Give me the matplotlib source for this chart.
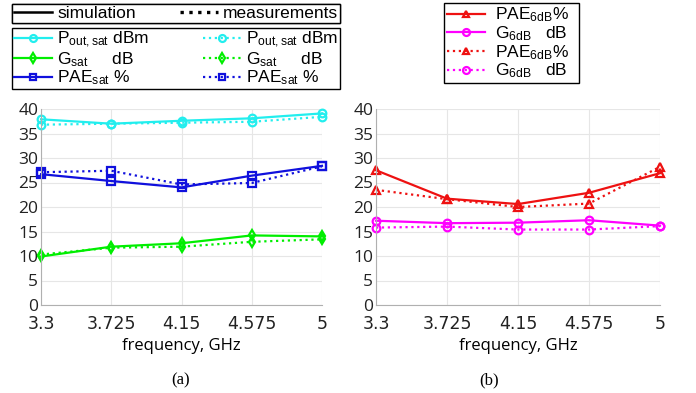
import numpy as np
import matplotlib
matplotlib.use("Agg")
import matplotlib.pyplot as plt
from matplotlib.lines import Line2D

plt.rcParams["mathtext.fontset"] = "custom"
plt.rcParams["mathtext.rm"] = "Liberation Sans"
plt.rcParams["mathtext.it"] = "Liberation Sans"

FREQ = [3.3, 3.725, 4.15, 4.575, 5]
FREQ_LABELS = ["3.3", "3.725", "4.15", "4.575", "5"]

# (a) saturated performance
POUT_SIM = [37.9, 37.0, 37.6, 38.1, 39.1]
POUT_MEAS = [36.8, 37.0, 37.2, 37.4, 38.4]
GSAT_SIM = [9.9, 11.9, 12.6, 14.2, 14.0]
GSAT_MEAS = [10.3, 11.7, 11.9, 12.9, 13.4]
PAESAT_SIM = [26.7, 25.3, 24.0, 26.4, 28.4]
PAESAT_MEAS = [27.1, 27.4, 24.6, 24.9, 28.3]

# (b) 6 dB back-off
PAE6_SIM = [27.5, 21.7, 20.6, 22.9, 26.9]
PAE6_MEAS = [23.5, 21.6, 20.0, 20.7, 28.2]
G6_SIM = [17.2, 16.7, 16.8, 17.3, 16.2]
G6_MEAS = [15.8, 16.0, 15.4, 15.4, 16.1]

CYAN, GREEN, BLUE, RED, MAG = "#22eeee", "#00ee00", "#1010dd", "#ee1111", "#ff00ff"

W, H = 696, 393
fig = plt.figure(figsize=(W / 100, H / 100), dpi=100)


def fr(x0, y0, x1, y1):
    # pixel box -> figure fraction [left, bottom, width, height]
    return [x0 / W, 1 - y1 / H, (x1 - x0) / W, (y1 - y0) / H]


ax_a = fig.add_axes(fr(41, 109, 322, 305))
ax_b = fig.add_axes(fr(376, 109, 660, 305))

tick_font = ["Liberation Sans Narrow", "DejaVu Sans"]
leg_font = {"family": "Liberation Sans", "size": 12.5}

for ax in (ax_a, ax_b):
    ax.set_xlim(3.3, 5)
    ax.set_ylim(0, 40)
    ax.set_xticks(FREQ)
    ax.set_xticklabels(FREQ_LABELS, family=tick_font, fontsize=12.5)
    ax.set_yticks(range(0, 41, 5))
    ax.set_yticklabels([str(v) for v in range(0, 41, 5)], family="Open Sans", fontsize=12.5)
    ax.grid(color="#e6e6e6", linewidth=0.8)
    for s in ("top", "right"):
        ax.spines[s].set_visible(False)
    for s in ("left", "bottom"):
        ax.spines[s].set_color("#b0b0b0")
    ax.tick_params(length=0, colors="#222222")
    ax.tick_params(axis="x", pad=7)
    ax.tick_params(axis="y", pad=2)
    ax.set_xlabel("frequency, GHz", family="Open Sans", fontsize=12, labelpad=4)
    ax.set_axisbelow(True)

mk = dict(markerfacecolor="none", markeredgewidth=1.6, markersize=5.5, linewidth=1.6)

ax_a.plot(FREQ, POUT_SIM, "-", color=CYAN, marker="o", **mk)
ax_a.plot(FREQ, POUT_MEAS, ":", color=CYAN, marker="o", **mk)
ax_a.plot(FREQ, GSAT_SIM, "-", color=GREEN, marker="d", **mk)
ax_a.plot(FREQ, GSAT_MEAS, ":", color=GREEN, marker="d", **mk)
ax_a.plot(FREQ, PAESAT_SIM, "-", color=BLUE, marker="s", **mk)
ax_a.plot(FREQ, PAESAT_MEAS, ":", color=BLUE, marker="s", **mk)

ax_b.plot(FREQ, PAE6_SIM, "-", color=RED, marker="^", **mk)
ax_b.plot(FREQ, PAE6_MEAS, ":", color=RED, marker="^", **mk)
ax_b.plot(FREQ, G6_SIM, "-", color=MAG, marker="o", **mk)
ax_b.plot(FREQ, G6_MEAS, ":", color=MAG, marker="o", **mk)

for a in (ax_a, ax_b):
    for ln in a.get_lines():
        ln.set_clip_on(False)

# legends
style_handles = [Line2D([], [], color="black", ls="-", lw=1.8),
                 Line2D([], [], color="black", ls=":", lw=2.4)]
leg1 = fig.legend(style_handles, ["simulation", "measurements"], ncol=2,
                  loc="upper left", bbox_to_anchor=fr(12, 4, 340, 28),
                  mode="expand", prop=leg_font, fancybox=False, edgecolor="black",
                  framealpha=1, borderpad=0.1, handlelength=2.2, handletextpad=0.3,
                  borderaxespad=0)
leg1.get_frame().set_linewidth(1.0)


def h(color, ls, marker):
    return Line2D([], [], color=color, ls=ls, marker=marker, markerfacecolor="none",
                  markeredgewidth=1.6, markersize=5, lw=1.6)


# column-major order: simulation column, then measurement column
a_handles = [h(CYAN, "-", "o"), h(GREEN, "-", "d"), h(BLUE, "-", "s"),
             h(CYAN, ":", "o"), h(GREEN, ":", "d"), h(BLUE, ":", "s")]
a_labels = [r"P$_{\rm out,sat}$ dBm", r"G$_{\rm sat}$     dB", r"PAE$_{\rm sat}$ %",
            r"P$_{\rm out,sat}$ dBm$\ \ \ \ \ $", r"G$_{\rm sat}$     dB",
            r"PAE$_{\rm sat}$ %"]
leg2 = fig.legend(a_handles, a_labels, ncol=2, loc="upper left",
                  bbox_to_anchor=fr(12, 28, 340, 94), mode="expand",
                  prop=leg_font, fancybox=False, edgecolor="black", framealpha=1,
                  borderpad=0.1, labelspacing=0.0, handlelength=2.2,
                  handletextpad=0.3, borderaxespad=0)
leg2.get_frame().set_linewidth(1.0)
fig.add_artist(leg1)

b_handles = [h(RED, "-", "^"), h(MAG, "-", "o"), h(RED, ":", "^"), h(MAG, ":", "o")]
b_labels = [r"PAE$_{\rm 6dB}$%", r"G$_{\rm 6dB}$   dB",
            r"PAE$_{\rm 6dB}$%", r"G$_{\rm 6dB}$   dB"]
leg3 = fig.legend(b_handles, b_labels, ncol=1, loc="upper left",
                  bbox_to_anchor=fr(444, 3, 579, 95), mode="expand",
                  prop=leg_font, fancybox=False, edgecolor="black", framealpha=1,
                  borderpad=0.15, labelspacing=0.0, handlelength=2.2,
                  handletextpad=0.6, borderaxespad=0)
leg3.get_frame().set_linewidth(1.0)

fig.text(181 / W, 1 - 380 / H, "(a)", family="Liberation Serif", fontsize=12,
         ha="center", va="center")
fig.text(489 / W, 1 - 380 / H, "(b)", family="Liberation Serif", fontsize=12,
         ha="center", va="center")

fig.savefig("out.png", dpi=100)
